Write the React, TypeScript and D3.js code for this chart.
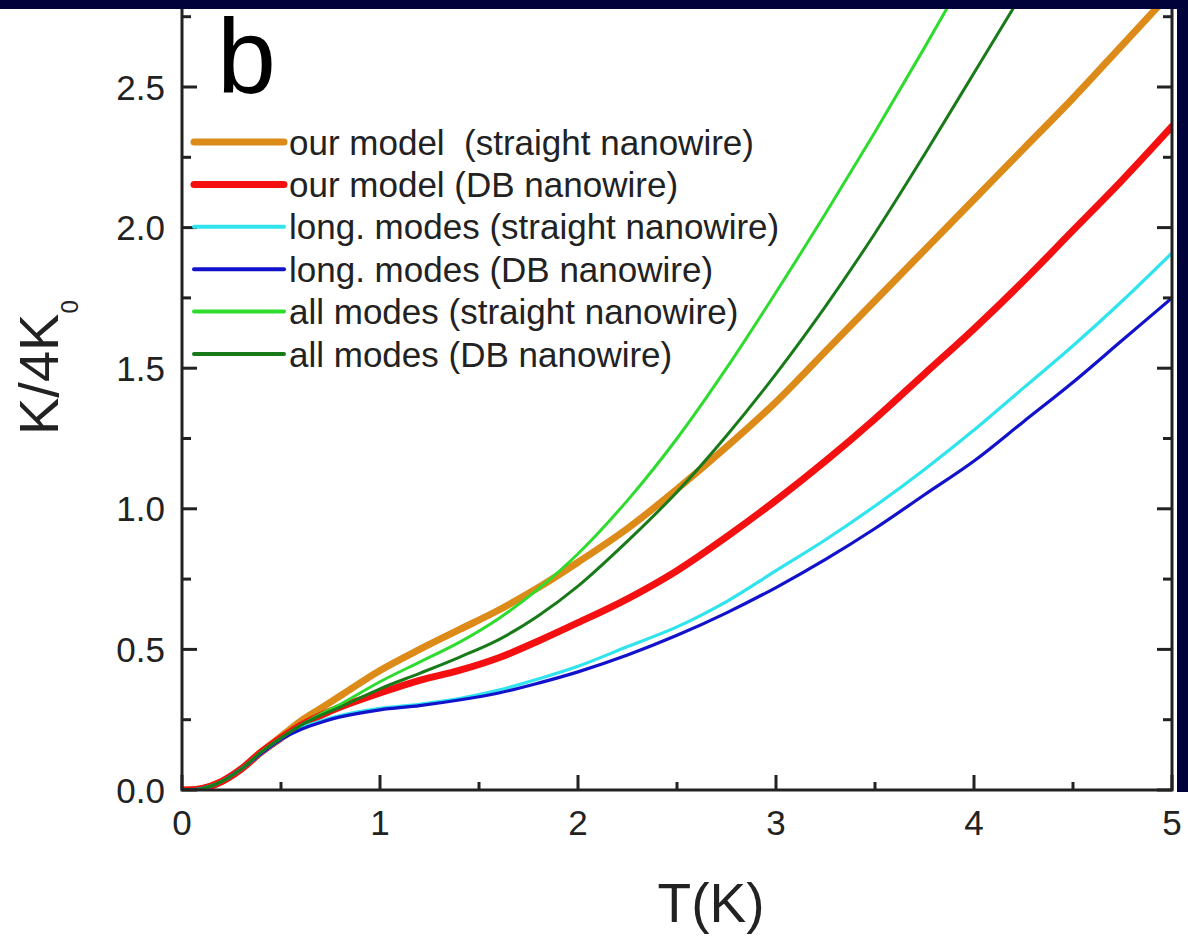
import React from "react";
import * as d3 from "d3";

// Temperature grid (K)
const T = [0, 0.1, 0.2, 0.3, 0.4, 0.5, 0.6, 0.7, 0.8, 1.0, 1.2, 1.4, 1.6, 1.8, 2.0, 2.25, 2.5, 2.75, 3.0, 3.25, 3.5, 3.75, 4.0, 4.25, 4.5, 4.75, 5.0];

// K/4K0 values
const ourModelStraight = [0, 0.005, 0.03, 0.075, 0.135, 0.19, 0.245, 0.29, 0.335, 0.425, 0.5, 0.57, 0.64, 0.72, 0.81, 0.93, 1.07, 1.22, 1.38, 1.56, 1.74, 1.92, 2.1, 2.28, 2.46, 2.65, 2.84];
const ourModelDB = [0, 0.005, 0.03, 0.075, 0.135, 0.185, 0.23, 0.265, 0.295, 0.345, 0.39, 0.425, 0.47, 0.53, 0.595, 0.68, 0.78, 0.9, 1.03, 1.17, 1.32, 1.48, 1.64, 1.81, 1.99, 2.17, 2.36];
const longStraight = [0, 0.005, 0.03, 0.075, 0.13, 0.18, 0.22, 0.245, 0.265, 0.29, 0.305, 0.325, 0.355, 0.395, 0.44, 0.51, 0.58, 0.67, 0.78, 0.89, 1.01, 1.14, 1.28, 1.43, 1.58, 1.74, 1.91];
const longDB = [0, 0.005, 0.03, 0.075, 0.13, 0.18, 0.215, 0.24, 0.26, 0.285, 0.3, 0.32, 0.345, 0.38, 0.42, 0.48, 0.55, 0.63, 0.72, 0.82, 0.93, 1.05, 1.17, 1.31, 1.45, 1.6, 1.75];
const allStraight = [0, 0.005, 0.03, 0.075, 0.135, 0.185, 0.23, 0.27, 0.305, 0.385, 0.455, 0.525, 0.61, 0.715, 0.84, 1.03, 1.25, 1.5, 1.77, 2.05, 2.34, 2.64, 2.95];
const allDB = [0, 0.005, 0.03, 0.075, 0.135, 0.185, 0.23, 0.265, 0.295, 0.36, 0.415, 0.472, 0.535, 0.62, 0.725, 0.885, 1.06, 1.26, 1.48, 1.72, 1.98, 2.26, 2.55, 2.84];

const seriesLabels = [
  "our model  (straight nanowire)",
  "our model (DB nanowire)",
  "long. modes (straight nanowire)",
  "long. modes (DB nanowire)",
  "all modes (straight nanowire)",
  "all modes (DB nanowire)",
];
const seriesValues = [ourModelStraight, ourModelDB, longStraight, longDB, allStraight, allDB];
const seriesColors = ["#DC8A18", "#F41010", "#30E4EE", "#1212CC", "#2EDC2E", "#187A18"];
const seriesWidths = [7, 7, 3.2, 3.2, 3, 3];

const xTicks = [0, 1, 2, 3, 4, 5];
const xMinor = [0.5, 1.5, 2.5, 3.5, 4.5];
const yTicks = [0, 0.5, 1.0, 1.5, 2.0, 2.5];
const yMinor = [0.25, 0.75, 1.25, 1.75, 2.25, 2.75];

const FONT = "'Liberation Sans', Arial, Helvetica, sans-serif";
const AX = "#222";

export default function App() {
  const W = 1188, H = 946;
  const left = 182, right = 1172, bottom = 790, top = 4;
  const x = d3.scaleLinear().domain([0, 5]).range([left, right]);
  const y = d3.scaleLinear().domain([0, 2.5]).range([bottom, 87]);

  const line = d3
    .line<[number, number]>()
    .x((d) => x(d[0]))
    .y((d) => y(d[1]))
    .curve(d3.curveCatmullRom.alpha(0.5));

  const legendY0 = 142, legendDy = 42.4;

  return (
    <svg
      width={W}
      height={H}
      style={{ position: "absolute", left: 0, top: 0, background: "#fff" }}
      fontFamily={FONT}
    >
      <defs>
        <clipPath id="plotclip">
          <rect x={left} y={top} width={right - left} height={bottom - top} />
        </clipPath>
      </defs>
      <rect x={0} y={0} width={W} height={H} fill="#fff" />

      {/* curves */}
      <g clipPath="url(#plotclip)">
        {seriesValues.map((vals, i) => (
          <path
            key={i}
            d={line(vals.map((v, j) => [T[j], v] as [number, number])) || ""}
            fill="none"
            stroke={seriesColors[i]}
            strokeWidth={seriesWidths[i]}
            strokeLinejoin="round"
            strokeLinecap="round"
          />
        ))}
      </g>

      {/* frame */}
      <path
        d={`M${left},${top}V${bottom}H${right}V${top}H${left}`}
        fill="none"
        stroke={AX}
        strokeWidth={3}
      />

      {/* x ticks */}
      {xTicks.map((t) => (
        <g key={"xt" + t}>
          <line x1={x(t)} x2={x(t)} y1={bottom} y2={bottom - 15} stroke={AX} strokeWidth={3} />
          <text x={x(t)} y={835} textAnchor="middle" fontSize={35} fill={AX}>
            {t}
          </text>
        </g>
      ))}
      {xMinor.map((t) => (
        <line key={"xm" + t} x1={x(t)} x2={x(t)} y1={bottom} y2={bottom - 8} stroke={AX} strokeWidth={3} />
      ))}

      {/* y ticks */}
      {yTicks.map((t) => (
        <g key={"yt" + t}>
          <line x1={left} x2={left + 15} y1={y(t)} y2={y(t)} stroke={AX} strokeWidth={3} />
          <line x1={right} x2={right - 15} y1={y(t)} y2={y(t)} stroke={AX} strokeWidth={3} />
          <text x={165} y={y(t)} dy="0.36em" textAnchor="end" fontSize={35} fill={AX}>
            {t.toFixed(1)}
          </text>
        </g>
      ))}
      {yMinor.map((t) => (
        <g key={"ym" + t}>
          <line x1={left} x2={left + 9} y1={y(t)} y2={y(t)} stroke={AX} strokeWidth={3} />
          <line x1={right} x2={right - 9} y1={y(t)} y2={y(t)} stroke={AX} strokeWidth={3} />
        </g>
      ))}

      {/* axis titles */}
      <text x={711} y={922} textAnchor="middle" fontSize={55} fill={AX}>
        T(K)
      </text>
      <text transform="translate(58,435) rotate(-90)" fontSize={56} fill={AX}>
        K/4K
        <tspan fontSize={24} dy={20}>
          0
        </tspan>
      </text>

      {/* panel label */}
      <text x={217} y={93} fontSize={106} fill="#000">
        b
      </text>

      {/* legend */}
      {seriesLabels.map((lab, i) => {
        const ly = legendY0 + i * legendDy;
        return (
          <g key={"lg" + i}>
            <line
              x1={194}
              x2={284}
              y1={ly}
              y2={ly}
              stroke={seriesColors[i]}
              strokeWidth={i < 2 ? 7 : 4}
              strokeLinecap="round"
            />
            <text x={289} y={ly} dy="0.36em" fontSize={35} fill={AX} style={{ whiteSpace: "pre" }}>
              {lab}
            </text>
          </g>
        );
      })}

      {/* navy border */}
      <rect x={0} y={0} width={W} height={9} fill="#02023A" />
      <rect x={1177} y={0} width={W - 1177} height={792} fill="#02023A" />
    </svg>
  );
}
